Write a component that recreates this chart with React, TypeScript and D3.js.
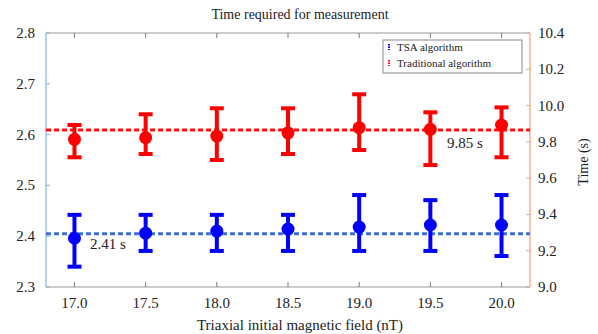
import React from 'react'
import * as d3 from 'd3'

// x positions (nT)
const fields = [17.0, 17.5, 18.0, 18.5, 19.0, 19.5, 20.0]
const xTicks = [17.0, 17.5, 18.0, 18.5, 19.0, 19.5, 20.0]

// TSA algorithm (left axis)
const tsaMean = [2.396, 2.406, 2.41, 2.414, 2.418, 2.422, 2.422]
const tsaHigh = [2.442, 2.442, 2.442, 2.442, 2.481, 2.471, 2.481]
const tsaLow = [2.34, 2.371, 2.371, 2.371, 2.371, 2.371, 2.361]
const tsaAvg = 2.405

// Traditional algorithm (right axis)
const tradMean = [9.814, 9.823, 9.832, 9.85, 9.878, 9.869, 9.893]
const tradHigh = [9.893, 9.952, 9.985, 9.985, 10.062, 9.963, 9.99]
const tradLow = [9.715, 9.733, 9.7, 9.733, 9.755, 9.672, 9.715]
const tradAvg = 9.865

const leftTicks = [2.3, 2.4, 2.5, 2.6, 2.7, 2.8]
const rightTicks = [9.0, 9.2, 9.4, 9.6, 9.8, 10.0, 10.2, 10.4]

const W = 598
const H = 334
const margin = { top: 33, right: 68, bottom: 47, left: 46 }
const FONT = 'Liberation Serif'

function App() {
  const svgRef = React.useRef(null)

  React.useEffect(() => {
    const svg = d3.select(svgRef.current)
    svg.selectAll('*').remove()

    const x = d3.scaleLinear().domain([16.8, 20.2]).range([margin.left, W - margin.right])
    const yL = d3.scaleLinear().domain([2.3, 2.8]).range([H - margin.bottom, margin.top])
    const yR = d3.scaleLinear().domain([9.0, 10.4]).range([H - margin.bottom, margin.top])

    const x0 = margin.left
    const x1 = W - margin.right
    const y0 = H - margin.bottom
    const y1 = margin.top

    // frame: top + bottom gray, left blue, right orange
    svg.append('line').attr('x1', x0).attr('x2', x1).attr('y1', y1).attr('y2', y1)
      .attr('stroke', '#999').attr('stroke-width', 1)
    svg.append('line').attr('x1', x0).attr('x2', x1).attr('y1', y0).attr('y2', y0)
      .attr('stroke', '#999').attr('stroke-width', 1)
    svg.append('line').attr('x1', x0).attr('x2', x0).attr('y1', y1).attr('y2', y0)
      .attr('stroke', '#7db4e6').attr('stroke-width', 1.2)
    svg.append('line').attr('x1', x1).attr('x2', x1).attr('y1', y1).attr('y2', y0)
      .attr('stroke', '#f0a080').attr('stroke-width', 1.2)

    // x ticks (inward, top and bottom)
    xTicks.forEach((t) => {
      svg.append('line').attr('x1', x(t)).attr('x2', x(t)).attr('y1', y0).attr('y2', y0 - 5)
        .attr('stroke', '#777')
      svg.append('line').attr('x1', x(t)).attr('x2', x(t)).attr('y1', y1).attr('y2', y1 + 5)
        .attr('stroke', '#777')
      svg.append('text').attr('x', x(t)).attr('y', y0 + 21).attr('text-anchor', 'middle')
        .attr('font-family', FONT).attr('font-size', 15).attr('fill', '#222')
        .text(d3.format('.1f')(t))
    })

    // left ticks
    leftTicks.forEach((t) => {
      svg.append('line').attr('x1', x0).attr('x2', x0 + 4).attr('y1', yL(t)).attr('y2', yL(t))
        .attr('stroke', '#7db4e6')
      svg.append('text').attr('x', 35).attr('y', yL(t) + 5).attr('text-anchor', 'end')
        .attr('font-family', FONT).attr('font-size', 15).attr('fill', '#222')
        .text(d3.format('.1f')(t))
    })

    // right ticks
    rightTicks.forEach((t) => {
      svg.append('line').attr('x1', x1).attr('x2', x1 - 4).attr('y1', yR(t)).attr('y2', yR(t))
        .attr('stroke', '#f0a080')
      svg.append('text').attr('x', x1 + 8).attr('y', yR(t) + 5).attr('text-anchor', 'start')
        .attr('font-family', FONT).attr('font-size', 15).attr('fill', '#222')
        .text(d3.format('.1f')(t))
    })

    // average dashed lines
    svg.append('line').attr('x1', x0).attr('x2', x1).attr('y1', yR(tradAvg)).attr('y2', yR(tradAvg))
      .attr('stroke', '#ff1010').attr('stroke-width', 3).attr('stroke-dasharray', '5,3')
    svg.append('line').attr('x1', x0).attr('x2', x1).attr('y1', yL(tsaAvg)).attr('y2', yL(tsaAvg))
      .attr('stroke', '#3d6fd6').attr('stroke-width', 3).attr('stroke-dasharray', '5,3')

    const drawSeries = (means, highs, lows, y, color) => {
      const g = svg.append('g')
      fields.forEach((f, i) => {
        const cx = x(f)
        g.append('line').attr('x1', cx).attr('x2', cx).attr('y1', y(highs[i])).attr('y2', y(lows[i]))
          .attr('stroke', color).attr('stroke-width', 4)
        g.append('line').attr('x1', cx - 7).attr('x2', cx + 7).attr('y1', y(highs[i])).attr('y2', y(highs[i]))
          .attr('stroke', color).attr('stroke-width', 4)
        g.append('line').attr('x1', cx - 7).attr('x2', cx + 7).attr('y1', y(lows[i])).attr('y2', y(lows[i]))
          .attr('stroke', color).attr('stroke-width', 4)
        g.append('circle').attr('cx', cx).attr('cy', y(means[i])).attr('r', 6.5).attr('fill', color)
      })
    }
    drawSeries(tradMean, tradHigh, tradLow, yR, '#ff0000')
    drawSeries(tsaMean, tsaHigh, tsaLow, yL, '#0000ff')

    // annotations
    svg.append('text').attr('x', 90).attr('y', 249).attr('font-family', FONT).attr('font-size', 15)
      .attr('fill', '#222').text('2.41 s')
    svg.append('text').attr('x', 447).attr('y', 148).attr('font-family', FONT).attr('font-size', 15)
      .attr('fill', '#222').text('9.85 s')

    // legend
    const lg = svg.append('g')
    lg.append('rect').attr('x', 383).attr('y', 40).attr('width', 139).attr('height', 33)
      .attr('fill', 'white').attr('stroke', '#888').attr('stroke-width', 1)
    const items = [
      { label: 'TSA algorithm', color: '#0000ff', y: 47 },
      { label: 'Traditional algorithm', color: '#ff0000', y: 63 },
    ]
    items.forEach((it) => {
      lg.append('line').attr('x1', 389).attr('x2', 389).attr('y1', it.y - 3).attr('y2', it.y + 3)
        .attr('stroke', it.color).attr('stroke-width', 2).attr('stroke-dasharray', '1.5,1')
      lg.append('text').attr('x', 397).attr('y', it.y + 4).attr('font-family', FONT)
        .attr('font-size', 11).attr('fill', '#222').text(it.label)
    })

    // titles
    svg.append('text').attr('x', 300).attr('y', 19).attr('text-anchor', 'middle')
      .attr('font-family', FONT).attr('font-size', 14).attr('fill', '#222')
      .text('Time required for measurement')
    svg.append('text').attr('x', 300).attr('y', 330).attr('text-anchor', 'middle')
      .attr('font-family', FONT).attr('font-size', 15).attr('fill', '#222')
      .text('Triaxial initial magnetic field (nT)')
    svg.append('text').attr('text-anchor', 'middle')
      .attr('transform', `translate(588, 162) rotate(-90)`)
      .attr('font-family', FONT).attr('font-size', 14).attr('fill', '#222')
      .text('Time (s)')
  }, [])

  return (
    <svg
      ref={svgRef}
      width={W}
      height={H}
      style={{ position: 'absolute', left: 0, top: 0, background: 'white' }}
    ></svg>
  )
}

export default App
